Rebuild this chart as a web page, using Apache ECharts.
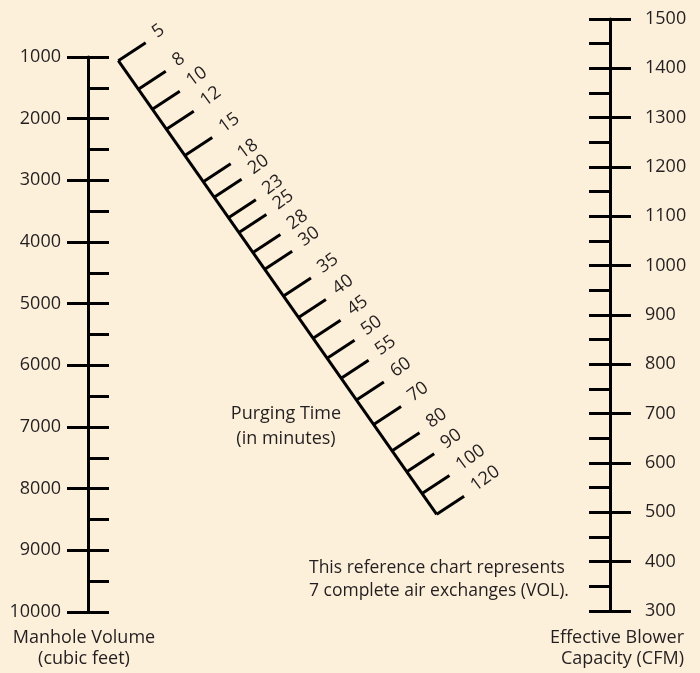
<!DOCTYPE html>
<html>
<head>
<meta charset="utf-8">
<script src="https://cdn.jsdelivr.net/npm/echarts@6/dist/echarts.min.js"></script>
<style>
  html, body { margin: 0; padding: 0; background: #fdf0db; }
  #chart { width: 700px; height: 673px; }
</style>
</head>
<body>
<div id="chart"></div>
<script>
// manhole volume scale (cubic feet)
var volumeTicks = [1000, 2000, 3000, 4000, 5000, 6000, 7000, 8000, 9000, 10000]
var volumeMinorStep = 500

// blower capacity scale (CFM)
var cfmTicks = [300, 400, 500, 600, 700, 800, 900, 1000, 1100, 1200, 1300, 1400, 1500]
var cfmMinorStep = 50

// purging time scale, position read along the diagonal (0 = first tick, 1 = last)
var purgeTimes = [5, 8, 10, 12, 15, 18, 20, 23, 25, 28, 30, 35, 40, 45, 50, 55, 60, 70, 80, 90, 100, 120]
var purgeScale = [0, 0.063, 0.107, 0.151, 0.209, 0.267, 0.301, 0.346, 0.379, 0.423, 0.460,
                  0.519, 0.566, 0.612, 0.656, 0.700, 0.748, 0.802, 0.860, 0.906, 0.954, 1]

var FONT = '"Open Sans", "Noto Sans", sans-serif'
var INK = '#231f20'
var FS = 18

var chart = echarts.init(document.getElementById('chart'))

var tickDx = 27.4, tickDy = -18
var tickLen = Math.sqrt(tickDx * tickDx + tickDy * tickDy)
var ux = tickDx / tickLen, uy = tickDy / tickLen

var last = purgeScale.length - 1

function volGrid() { return { left: 88, top: 57, right: 212, bottom: 61 } }
function cfmGrid() { return { left: 210, top: 19, right: 90, bottom: 62 } }

function scaleAxis(gridIndex, pos, ticks, step, major, inverse, margin) {
  return {
    gridIndex: gridIndex, type: 'value', position: pos, inverse: inverse,
    min: ticks[0], max: ticks[ticks.length - 1],
    interval: major ? ticks[1] - ticks[0] : step,
    axisLine: { show: major, onZero: false, lineStyle: { color: '#000', width: 3 } },
    axisTick: { show: true, inside: !major, length: 21, lineStyle: { color: '#000', width: 3 } },
    axisLabel: {
      show: major, margin: margin, fontSize: FS, color: INK, fontFamily: FONT,
      formatter: function (v) { return String(v) }
    },
    splitLine: { show: false }
  }
}

var option = {
  backgroundColor: '#fdf0db',
  animation: false,
  grid: [
    volGrid(), volGrid(), cfmGrid(), cfmGrid(),
    { left: 118.3, top: 60.7, width: 318.4, height: 453.6 }
  ],
  xAxis: [0, 1, 2, 3].map(function (i) { return { gridIndex: i, type: 'value', show: false } })
    .concat([{ gridIndex: 4, type: 'value', show: false, min: 0, max: 1 }]),
  yAxis: [
    scaleAxis(0, 'left', volumeTicks, volumeMinorStep, true, true, 27),
    scaleAxis(1, 'left', volumeTicks, volumeMinorStep, false, true, 27),
    scaleAxis(2, 'right', cfmTicks, cfmMinorStep, true, false, 35),
    scaleAxis(3, 'right', cfmTicks, cfmMinorStep, false, false, 35),
    { gridIndex: 4, type: 'value', show: false, min: 0, max: 1, inverse: true }
  ],
  series: [
    {
      type: 'line',
      xAxisIndex: 4, yAxisIndex: 4,
      clip: false,
      symbol: 'none',
      lineStyle: { color: '#000', width: 3 },
      data: [[purgeScale[0], purgeScale[0]], [purgeScale[last], purgeScale[last]]]
    },
    {
      type: 'custom',
      xAxisIndex: 4, yAxisIndex: 4,
      clip: false,
      data: purgeTimes.map(function (t, i) { return [purgeScale[i], purgeScale[i], t] }),
      renderItem: function (params, api) {
        var p = api.coord([api.value(0), api.value(1)])
        var ex = p[0] + tickDx, ey = p[1] + tickDy
        var lx = ex + ux * 12 - 0.549 * 2.5
        var ly = ey + uy * 12 - 0.836 * 2.5
        return {
          type: 'group',
          children: [
            {
              type: 'line',
              shape: { x1: p[0], y1: p[1], x2: ex, y2: ey },
              style: { stroke: '#000', lineWidth: 3 }
            },
            {
              type: 'text',
              x: lx, y: ly,
              rotation: 36 * Math.PI / 180,
              style: {
                text: String(api.value(2)),
                align: 'left', verticalAlign: 'middle',
                fill: INK, fontSize: FS, fontFamily: FONT
              }
            }
          ]
        }
      }
    }
  ],
  graphic: [
    { type: 'text', x: 84, y: 638, style: { text: 'Manhole Volume', align: 'center', verticalAlign: 'middle', fill: INK, fontSize: FS, fontFamily: FONT } },
    { type: 'text', x: 84, y: 659, style: { text: '(cubic feet)', align: 'center', verticalAlign: 'middle', fill: INK, fontSize: FS, fontFamily: FONT } },
    { type: 'text', x: 684, y: 638, style: { text: 'Effective Blower', align: 'right', verticalAlign: 'middle', fill: INK, fontSize: FS, fontFamily: FONT } },
    { type: 'text', x: 684, y: 659, style: { text: 'Capacity (CFM)', align: 'right', verticalAlign: 'middle', fill: INK, fontSize: FS, fontFamily: FONT } },
    { type: 'text', x: 286, y: 414, style: { text: 'Purging Time', align: 'center', verticalAlign: 'middle', fill: INK, fontSize: FS, fontFamily: FONT } },
    { type: 'text', x: 286, y: 439, style: { text: '(in minutes)', align: 'center', verticalAlign: 'middle', fill: INK, fontSize: FS, fontFamily: FONT } },
    { type: 'text', x: 309, y: 568, style: { text: 'This reference chart represents', align: 'left', verticalAlign: 'middle', fill: INK, fontSize: 17.5, fontFamily: FONT } },
    { type: 'text', x: 309, y: 591, style: { text: '7 complete air exchanges (VOL).', align: 'left', verticalAlign: 'middle', fill: INK, fontSize: 17.5, fontFamily: FONT } }
  ]
}

chart.setOption(option)
</script>
</body>
</html>
